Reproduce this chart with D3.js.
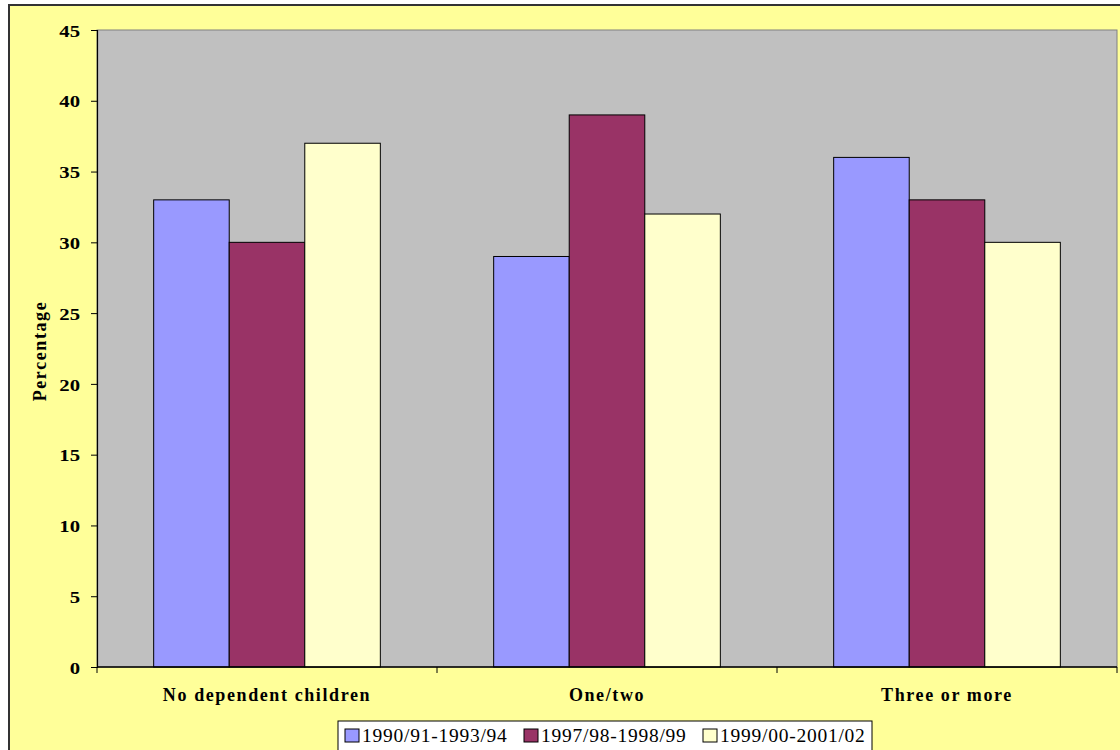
<!DOCTYPE html>
<html><head><meta charset="utf-8">
<script src="https://cdn.jsdelivr.net/npm/d3@7"></script>
<style>body{margin:0;background:#fff}svg{display:block}</style>
</head><body>
<svg id="c" width="1120" height="750"></svg>
<script>
const categories = ["No dependent children", "One/two", "Three or more"];
const seriesNames = ["1990/91-1993/94", "1997/98-1998/99", "1999/00-2001/02"];
const s1990 = [33, 29, 36];
const s1997 = [30, 39, 33];
const s1999 = [37, 32, 30];
const yTicks = [0, 5, 10, 15, 20, 25, 30, 35, 40, 45];
const colors = ["#9999FF", "#993366", "#FFFFCC"];
const series = [s1990, s1997, s1999];
const FONT = '"Liberation Serif", "Times New Roman", serif';

const svg = d3.select("#c");
svg.append("rect").attr("x", 9).attr("y", 5).attr("width", 1120).attr("height", 760)
  .attr("fill", "#FFFF99").attr("stroke", "#333").attr("stroke-width", 2);

const L = 97, R = 1117, T = 30, B = 667;
const x = d3.scaleBand().domain(categories).range([L, R]);
const xs = d3.scaleBand().domain(d3.range(3)).range([0, x.bandwidth()]).paddingInner(0).paddingOuter(0.75);
const y = d3.scaleLinear().domain([0, 45]).range([B, T]);

svg.append("rect").attr("x", L).attr("y", T).attr("width", R - L).attr("height", B - T)
  .attr("fill", "#C0C0C0").attr("stroke", "#808080").attr("stroke-width", 1);

const g = svg.append("g");
series.forEach((vals, si) => {
  g.selectAll(null).data(vals).enter().append("rect")
    .attr("x", (d, i) => x(categories[i]) + xs(si))
    .attr("y", d => y(d))
    .attr("width", xs.bandwidth())
    .attr("height", d => B - y(d))
    .attr("fill", colors[si]).attr("stroke", "#000").attr("stroke-width", 1);
});

// y axis
const ya = svg.append("g").attr("transform", `translate(${L},0)`)
  .call(d3.axisLeft(y).tickValues(yTicks).tickSize(6));
ya.select(".domain").attr("stroke", "#000").attr("stroke-width", 1.2);
ya.selectAll(".tick line").attr("stroke", "#000");
ya.selectAll(".tick text").remove();
ya.selectAll(".tick").append("text")
  .attr("transform", "scale(1.22,1)").attr("x", -17 / 1.22).attr("dy", "0.36em")
  .attr("text-anchor", "end").attr("fill", "#000")
  .style("font-family", FONT).style("font-size", "17px").style("font-weight", "bold")
  .text(d => d);

// x axis
svg.append("line").attr("x1", L).attr("x2", R).attr("y1", B).attr("y2", B).attr("stroke", "#000").attr("stroke-width", 1.5);
const bounds = categories.map(c => x(c)).concat([R]);
svg.selectAll(null).data(bounds).enter().append("line")
  .attr("x1", d => d).attr("x2", d => d).attr("y1", B).attr("y2", B + 6).attr("stroke", "#000");
svg.selectAll(null).data(categories).enter().append("text")
  .attr("x", d => x(d) + x.bandwidth() / 2).attr("y", 701)
  .attr("text-anchor", "middle")
  .style("font-family", FONT).style("font-size", "18px").style("font-weight", "bold").style("letter-spacing", "1.6px")
  .text(d => d);

// y title
svg.append("text").attr("transform", "translate(46,351) rotate(-90)")
  .attr("text-anchor", "middle")
  .style("font-family", FONT).style("font-size", "18px").style("font-weight", "bold").style("letter-spacing", "1.6px")
  .text("Percentage");

// legend
const lg = svg.append("g");
lg.append("rect").attr("x", 338).attr("y", 721).attr("width", 534).attr("height", 40)
  .attr("fill", "#fff").attr("stroke", "#000").attr("stroke-width", 1);
const lx = [345, 524, 703];
seriesNames.forEach((n, i) => {
  lg.append("rect").attr("x", lx[i]).attr("y", 729).attr("width", 14).attr("height", 13)
    .attr("fill", colors[i]).attr("stroke", "#000");
  lg.append("text").attr("x", lx[i] + 17).attr("y", 742)
    .style("font-family", FONT).style("font-size", "19.5px").style("letter-spacing", "0.75px")
    .text(n);
});
</script>
</body></html>
